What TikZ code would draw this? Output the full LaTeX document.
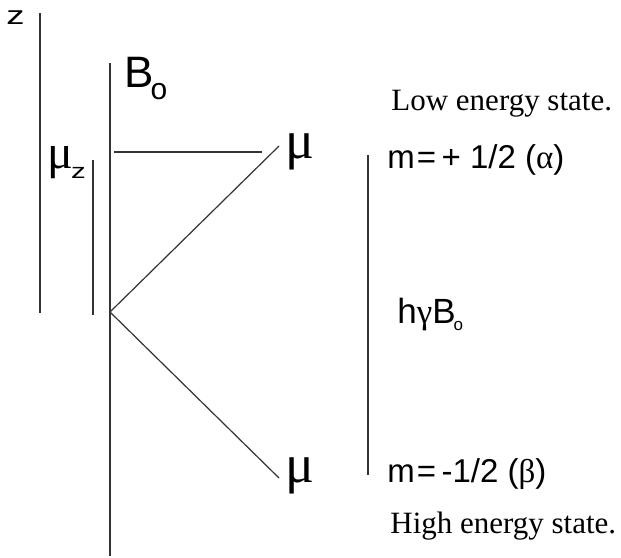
\documentclass[tikz,border=0pt]{standalone}
\usepackage{fontspec}
\setmainfont{Liberation Serif}
\setsansfont{Liberation Sans}
\usetikzlibrary{positioning}
\definecolor{ink}{HTML}{333333}
\newcommand{\grk}[1]{{\rmfamily #1}}
\newcommand{\lowsub}[2]{\raisebox{-#1}{#2}}
\newcommand{\widez}[1]{\scalebox{1.4}[1]{#1}}
\tikzset{
  axis/.style={draw=ink,line width=0.6pt},
  statetext/.style={inner sep=0pt,anchor=base west,font=\fontsize{15.5}{18}\selectfont},
  quant/.style={inner sep=0pt,anchor=base west,font=\sffamily\fontsize{16.5}{18}\selectfont},
  spin/.style={inner sep=0pt,anchor=base west,font=\fontsize{27}{30}\selectfont},
  field/.style={inner sep=0pt,anchor=base west,font=\sffamily\fontsize{22}{24}\selectfont}
}

\begin{document}
\begin{tikzpicture}[x=0.5pt,y=-0.5pt]
\useasboundingbox (0,0) rectangle (621,557);
% axes and vectors
\coordinate (zTop) at (40,13);
\coordinate (zBot) at (40,313);
\coordinate (bTop) at (110,63);
\coordinate (bBot) at (110,556);
\coordinate (origin) at (110,312);
\coordinate (mzTop) at (93,160);
\coordinate (mzBot) at (93,315);
\coordinate (hStart) at (114,152);
\coordinate (hEnd) at (262,152);
\coordinate (upTip) at (279,146);
\coordinate (downTip) at (279,478);
\coordinate (gapTop) at (368,155);
\coordinate (gapBot) at (368,475);
\draw[axis] (zTop) -- (zBot);
\draw[axis] (bTop) -- (bBot);
\draw[axis] (mzTop) -- (mzBot);
\draw[axis] (hStart) -- (hEnd);
\draw[axis] (origin) -- (upTip);
\draw[axis] (origin) -- (downTip);
\draw[axis] (gapTop) -- (gapBot);
% labels
\node[quant,font=\sffamily\fontsize{13}{14}\selectfont] (zlab) at (6,25) {\widez{z}};
\node[field] (Bo) at (124,87) {B\kern-1.5pt\lowsub{6pt}{\fontsize{15}{16}\selectfont o}};
\node[spin,font=\fontsize{24}{26}\selectfont] (muz) at (47,168) {μ\kern-1pt\lowsub{5pt}{\sffamily\fontsize{10.5}{12}\selectfont\widez{z}}};
\node[spin] (muUp) at (285,158) {μ};
\node[spin] (muDown) at (285,482) {μ};
\node[statetext] (low) at (391,110) {Low energy state.};
\node[quant] (mUp) at (387,168) {m\kern1pt=\,+ 1/2 (\grk{α})};
\node[quant,font=\sffamily\fontsize{17.5}{20}\selectfont] (gap) at (397,323) {h\grk{γ}B\kern-1pt\lowsub{3.5pt}{\fontsize{8.5}{9}\selectfont o}};
\node[quant] (mDown) at (387,482) {m\kern1pt=\,-1/2 (\grk{β})};
\node[statetext] (high) at (390,533) {High energy state.};
\end{tikzpicture}
\end{document}
